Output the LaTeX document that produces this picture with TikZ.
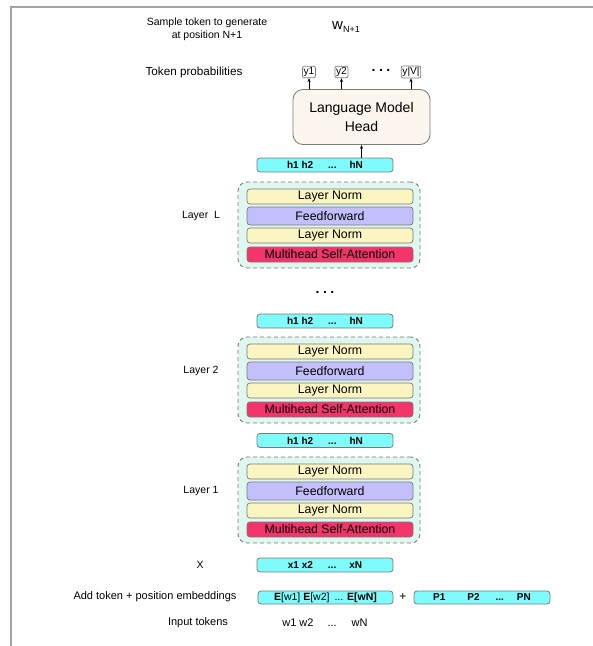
\documentclass[tikz,border=0pt]{standalone}
\usepackage{fontspec}
\setmainfont{Liberation Sans}
\usetikzlibrary{arrows.meta}

\definecolor{framegray}{HTML}{A3A3A3}
\definecolor{edgegray}{HTML}{7A7A7A}
\definecolor{vecfill}{HTML}{80FBFC}
\definecolor{normfill}{HTML}{FBF5C2}
\definecolor{fffill}{HTML}{C2BFFA}
\definecolor{attnfill}{HTML}{F2346A}
\definecolor{layerfill}{HTML}{DFF7EE}
\definecolor{headfill}{HTML}{FDF6EE}

\tikzset{
  lbl/.style={font=\fontsize{10.5}{13}\selectfont, inner sep=0pt, align=center},
  biglbl/.style={lbl, font=\fontsize{11.7}{13}\selectfont},
  vecbox/.style={draw=edgegray, fill=vecfill, rounded corners=3pt,
    minimum width=136pt, minimum height=14pt, inner sep=0pt,
    font=\fontsize{10}{12}\selectfont\bfseries, line width=0.8pt},
  sublayer/.style={draw=edgegray, rounded corners=3pt, minimum width=166pt,
    inner sep=0pt, font=\fontsize{12.3}{14}\selectfont, line width=0.7pt},
  layerbox/.style={draw=edgegray, fill=layerfill, dash pattern=on 4pt off 3pt,
    rounded corners=9pt, minimum width=182pt, minimum height=86pt,
    line width=0.9pt, inner sep=0pt},
  probbox/.style={draw=edgegray, rounded corners=2pt, minimum height=11pt,
    inner sep=1.2pt, font=\fontsize{10.2}{11}\selectfont, line width=0.7pt},
  headbox/.style={draw=edgegray, fill=headfill, rounded corners=10pt,
    minimum width=137pt, minimum height=55pt, inner sep=0pt, align=center,
    font=\fontsize{14}{19}\selectfont, line width=0.8pt},
  dotsfont/.style={font=\fontsize{14}{14}\selectfont\bfseries, inner sep=0pt},
  arr/.style={-{Stealth[length=4pt,width=3.2pt]}, line width=0.7pt},
}

\begin{document}
\begin{tikzpicture}[x=1pt, y=-1pt]
\useasboundingbox (0,0) rectangle (593,646);

% page frame
\draw[framegray, line width=2pt] (11,646) -- (11,7) -- (593,7);

% output side
\node[lbl] (sample) at (207,29) {Sample token to generate\\at position N+1};
\node[inner sep=0pt] (wnext) at (346,27)
  {{\fontsize{15}{15}\selectfont w}{\fontsize{9}{9}\selectfont\raisebox{-3.5pt}{N+1}}};
\node[biglbl] (probs) at (194,72) {Token probabilities};
\node[probbox] (y1) at (309,72) {y1};
\node[probbox] (y2) at (341.5,72) {y2};
\node[dotsfont] (ydots) at (381,70) {.\hspace{3.5pt}.\hspace{3.5pt}.};
\node[probbox] (yV) at (411,72) {y|V|};

\node[headbox] (lmhead) at (361.5,117) {Language Model\\Head};
\draw[arr] (lmhead.north -| y1) -- (y1.south);
\draw[arr] (lmhead.north -| y2) -- (y2.south);
\draw[arr] (lmhead.north -| yV) -- (yV.south);

% hidden states above each shown layer
\node[vecbox] (hL) at (325,165) {h1 h2\hspace{15pt}...\hspace{13pt}hN};
\draw[arr] (hL.north -| lmhead.south) -- (lmhead.south);
\node[dotsfont] (layerdots) at (325,292) {.\hspace{3.5pt}.\hspace{3.5pt}.};
\node[vecbox] (htwo) at (325,321) {h1 h2\hspace{15pt}...\hspace{13pt}hN};
\node[vecbox] (hone) at (325,440.5) {h1 h2\hspace{15pt}...\hspace{13pt}hN};

% transformer blocks
\foreach \n/\top/\lab in {L/182/{Layer\ \ L}, two/337/{Layer 2}, one/457/{Layer 1}} {
  \node[layerbox] (\n box) at (329,{\top+43}) {};
  \node[sublayer, fill=normfill, minimum height=15pt] (\n norm1) at (330,{\top+14.5}) {Layer Norm};
  \node[sublayer, fill=fffill, minimum height=18pt] (\n ff) at (330,{\top+34}) {Feedforward};
  \node[sublayer, fill=normfill, minimum height=15pt] (\n norm2) at (330,{\top+53.5}) {Layer Norm};
  \node[sublayer, fill=attnfill, minimum height=15pt] (\n attn) at (330,{\top+72.5}) {Multihead Self-Attention};
  \node[lbl] (\n label) at (201,{\top+34}) {\lab};
}

% input side
\node[lbl] (xlabel) at (200,565) {X};
\node[vecbox] (xvec) at (325,565) {x1 x2\hspace{15pt}...\hspace{13pt}xN};

\node[lbl, font=\fontsize{11}{13}\selectfont] (addlabel) at (155,597) {Add token + position embeddings};
\node[vecbox, font=\fontsize{10.5}{12}\selectfont, minimum width=135pt, minimum height=13pt] (emb) at (325.5,597.5)
  {\textbf{E}[w1] \textbf{E}[w2]\hspace{5pt}... \textbf{E[wN]}};
\node[lbl, font=\fontsize{12}{12}\selectfont] (plus) at (403,597) {+};
\node[vecbox, minimum height=13pt] (pos) at (482,597.5)
  {P1\hspace{22pt}P2\hspace{16pt}...\hspace{13pt}PN};

\node[lbl, font=\fontsize{11}{13}\selectfont] (inlabel) at (198,623) {Input tokens};
\node[lbl, font=\fontsize{11}{13}\selectfont] (intokens) at (325,623) {w1 w2\hspace{14pt}...\hspace{15pt}wN};
\end{tikzpicture}
\end{document}
